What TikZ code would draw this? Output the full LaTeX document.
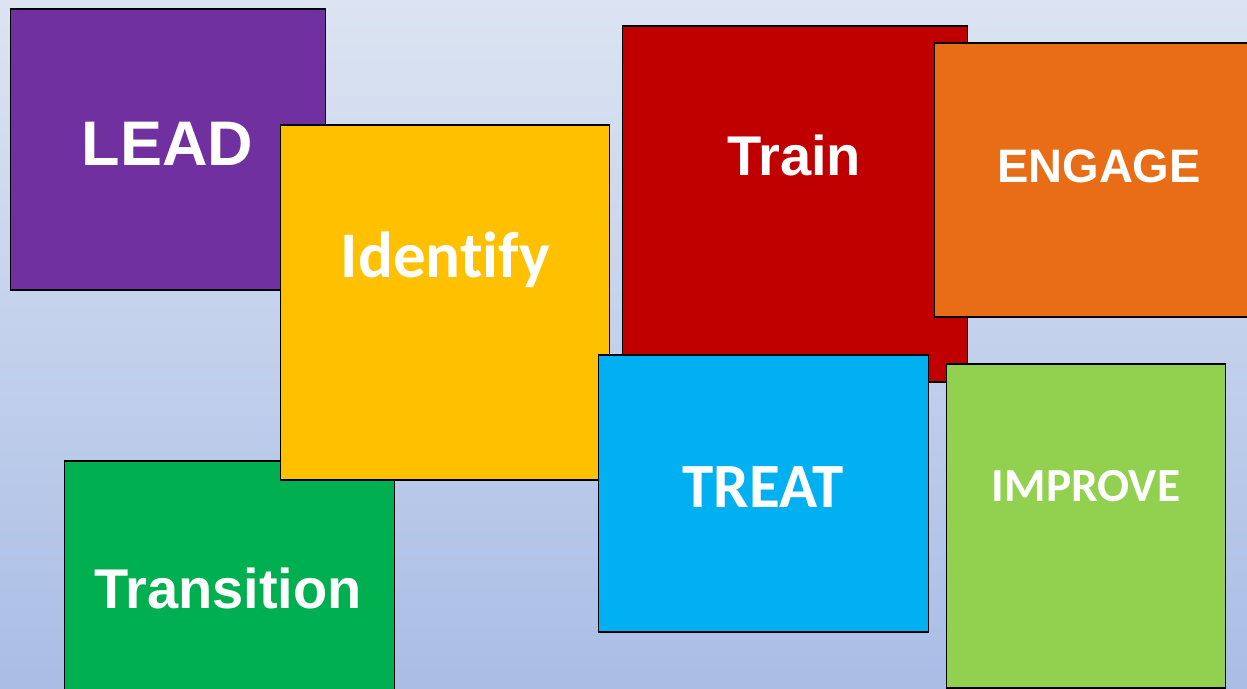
\documentclass[tikz,border=0pt]{standalone}
\usepackage{fontspec}
\usepackage{tikz}
\usetikzlibrary{positioning}
\newfontfamily\arialfont{Liberation Sans}
\newfontfamily\calibrifont{Carlito}[Ligatures={NoCommon}]
\definecolor{bgtop}{HTML}{DCE4F2}
\definecolor{bgbottom}{HTML}{A9BDE5}
\definecolor{leadpurple}{HTML}{7030A0}
\definecolor{identyellow}{HTML}{FFC000}
\definecolor{transgreen}{HTML}{00B050}
\definecolor{trainred}{HTML}{C00000}
\definecolor{engorange}{HTML}{E96C17}
\definecolor{treatblue}{HTML}{00B0F0}
\definecolor{improvegreen}{HTML}{92D050}

\begin{document}
\begin{tikzpicture}[
    x=1pt, y=-1pt,
    box/.style={rectangle, draw=black, line width=1.6pt, anchor=north west, inner sep=0pt},
    arialtxt/.style={anchor=base, text=white, inner sep=0pt},
    calibritxt/.style={anchor=base, text=white, inner sep=0pt}
]
\useasboundingbox (0,0) rectangle (1247,688);
\clip (0,0) rectangle (1247,688);
\shade[top color=bgtop, bottom color=bgbottom] (0,0) rectangle (1247,688);

% left group
\node (leadbox) [box, fill=leadpurple, minimum width=315pt, minimum height=281pt] at (9.5,8) {};
\node (leadtext) [arialtxt, font=\arialfont\bfseries\fontsize{63}{70}\selectfont] at (167.5,165) {LEAD};
\node (transbox) [box, fill=transgreen, minimum width=330pt, minimum height=245pt] at (63.5,460) {};
\node (transtext) [arialtxt, font=\arialfont\bfseries\fontsize{56}{64}\selectfont] at (228,608) {Transition};
\node (identbox) [box, fill=identyellow, minimum width=329pt, minimum height=355pt] at (279.5,124) {};
\node (identtext) [calibritxt, font=\calibrifont\bfseries\fontsize{65}{72}\selectfont] at (445.5,277) {Identify};

% right group
\node (trainbox) [box, fill=trainred, minimum width=345pt, minimum height=356pt] at (621.5,25) {};
\node (traintext) [arialtxt, font=\arialfont\bfseries\fontsize{56}{64}\selectfont] at (794,175) {Train};
\node (engbox) [box, fill=engorange, minimum width=330pt, minimum height=274pt] at (933.5,42) {};
\node (engtext) [arialtxt, font=\arialfont\bfseries\fontsize{47}{54}\selectfont] at (1099,182.5) {ENGAGE};
\node (treatbox) [box, fill=treatblue, minimum width=330pt, minimum height=277pt] at (597.5,354) {};
\node (treattext) [calibritxt, font=\calibrifont\bfseries\fontsize{63}{70}\selectfont] at (763,507) {TREAT};
\node (improvebox) [box, fill=improvegreen, minimum width=279pt, minimum height=324pt] at (945.5,363) {};
\node (improvetext) [calibritxt, font=\calibrifont\bfseries\fontsize{47.5}{54}\selectfont] at (1086,501) {IMPROVE};
\end{tikzpicture}
\end{document}
